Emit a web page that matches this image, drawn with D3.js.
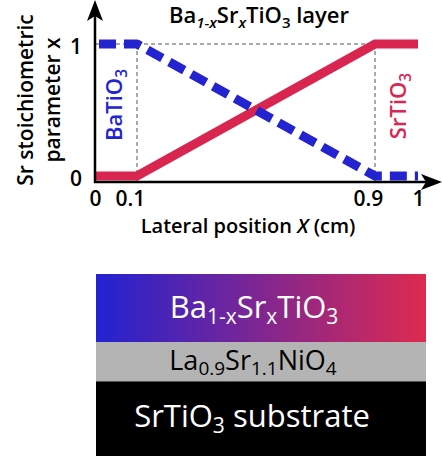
<!DOCTYPE html>
<html>
<head>
<meta charset="utf-8">
<script src="https://cdn.jsdelivr.net/npm/d3@7"></script>
<style>
  html, body { margin: 0; padding: 0; background: #fff; }
  svg { display: block; font-family: "Open Sans", sans-serif; }
</style>
</head>
<body>
<svg id="chart" width="442" height="456"></svg>
<script>
// ---- data ----
const positions = [0, 0.1, 0.9, 1];          // lateral position X (cm)
const srSeries = [0, 0, 1, 1];               // SrTiO3 fraction x (red)
const baSeries = [1, 1, 0, 0];               // BaTiO3 fraction 1-x (blue)
const xTickValues = [0, 0.1, 0.9, 1];
const xTickLabels = ["0", "0.1", "0.9", "1"];
const yTickValues = [0, 1];
const yTickLabels = ["0", "1"];

const blue = "#2323cf";
const red = "#d92650";

const svg = d3.select("#chart");

// schematic (piecewise) position scale
const x = d3.scaleLinear().domain([0, 0.1, 0.9, 1]).range([95, 137, 375, 418]);
const y = d3.scaleLinear().domain([0, 1]).range([176, 44]);
const axisY = 182;

// guides
const guides = svg.append("g").attr("stroke", "#555").attr("stroke-width", 1).attr("stroke-dasharray", "4,3");
guides.append("line").attr("x1", x(0)).attr("x2", x(0.9)).attr("y1", y(1)).attr("y2", y(1));
[0.1, 0.9].forEach(v => {
  guides.append("line").attr("x1", x(v)).attr("x2", x(v)).attr("y1", y(1)).attr("y2", axisY);
});

// series lines
const line = d3.line().x((d, i) => x(positions[i])).y(d => y(d));
svg.append("path").datum(srSeries).attr("d", line)
  .attr("fill", "none").attr("stroke", red).attr("stroke-width", 9).attr("stroke-linejoin", "miter");
svg.append("path").datum(baSeries).attr("d", line)
  .attr("fill", "none").attr("stroke", blue).attr("stroke-width", 9)
  .attr("stroke-dasharray", "17,8").attr("stroke-dashoffset", -4).attr("stroke-linejoin", "round");

// axes lines with arrows
svg.append("line").attr("x1", x(0)).attr("x2", x(0)).attr("y1", axisY + 1).attr("y2", 14)
  .attr("stroke", "#000").attr("stroke-width", 2.5);
svg.append("line").attr("x1", x(0) - 1).attr("x2", 430).attr("y1", axisY).attr("y2", axisY)
  .attr("stroke", "#000").attr("stroke-width", 2.5);
const ax0 = x(0);
svg.append("path").attr("d", `M${ax0},0 L${ax0 + 8},21 L${ax0},16 L${ax0 - 8},21 Z`).attr("fill", "#000");
svg.append("path").attr("d", `M442,${axisY} L421,${axisY - 8} L426,${axisY} L421,${axisY + 8} Z`).attr("fill", "#000");

// tick labels
const xAxis = d3.axisBottom(x).tickValues(xTickValues).tickSize(0).tickPadding(9)
  .tickFormat((d, i) => xTickLabels[i]);
const gx = svg.append("g").attr("transform", `translate(0,${axisY})`).call(xAxis);
gx.select(".domain").remove();
gx.selectAll("text").attr("font-size", 21).attr("font-weight", 600).attr("fill", "#000")
  .attr("font-family", "Open Sans")
  .attr("dx", (d) => (d > 0 && d < 1) ? -7 : 0);

const yAxis = d3.axisLeft(y).tickValues(yTickValues).tickSize(0).tickPadding(13)
  .tickFormat((d, i) => yTickLabels[i]);
const gy = svg.append("g").attr("transform", `translate(${x(0)},0)`).call(yAxis);
gy.select(".domain").remove();
gy.selectAll("text").attr("font-size", 21).attr("font-weight", 600).attr("fill", "#000")
  .attr("font-family", "Open Sans").attr("dy", "0.45em");

// title
const title = svg.append("text").attr("x", 259).attr("y", 23).attr("text-anchor", "middle")
  .attr("font-size", 22).attr("font-weight", 600);
title.append("tspan").text("Ba");
title.append("tspan").attr("font-size", 15).attr("font-style", "italic").attr("dy", 5).text("1-x");
title.append("tspan").attr("dy", -5).text("Sr");
title.append("tspan").attr("font-size", 15).attr("font-style", "italic").attr("dy", 5).text("x");
title.append("tspan").attr("dy", -5).text("TiO");
title.append("tspan").attr("font-size", 15).attr("dy", 5).text("3");
title.append("tspan").attr("dy", -5).text(" layer");

// y label
const yl = svg.append("text").attr("transform", "translate(33,100) rotate(-90)")
  .attr("text-anchor", "middle").attr("font-size", 21).attr("font-weight", 600);
yl.append("tspan").attr("x", 0).attr("y", 0).text("Sr stoichiometric");
yl.append("tspan").attr("x", 0).attr("y", 27).text("parameter x");

// x label
const xl = svg.append("text").attr("x", 248).attr("y", 233).attr("text-anchor", "middle")
  .attr("font-size", 20).attr("font-weight", 600);
xl.append("tspan").text("Lateral position ");
xl.append("tspan").attr("font-style", "italic").text("X");
xl.append("tspan").text(" (cm)");

// rotated series labels
function chem(sel, parts) {
  parts.forEach(p => {
    if (p.sub) sel.append("tspan").attr("font-size", "0.7em").attr("dy", p.dy).text(p.t);
    else sel.append("tspan").attr("dy", p.dy || 0).text(p.t);
  });
}
const baL = svg.append("text").attr("transform", "translate(122,105) rotate(-90)")
  .attr("text-anchor", "middle").attr("font-size", 22).attr("font-weight", 600).attr("fill", blue);
chem(baL, [{t: "BaTiO"}, {t: "3", sub: true, dy: 5}]);
const srL = svg.append("text").attr("transform", "translate(406,106) rotate(-90)")
  .attr("text-anchor", "middle").attr("font-size", 22).attr("font-weight", 600).attr("fill", red);
chem(srL, [{t: "SrTiO"}, {t: "3", sub: true, dy: 5}]);

// ---- layer stack diagram ----
const defs = svg.append("defs");
const grad = defs.append("linearGradient").attr("id", "bst").attr("x1", "0%").attr("x2", "100%");
grad.append("stop").attr("offset", "0%").attr("stop-color", "#2222d2");
grad.append("stop").attr("offset", "100%").attr("stop-color", "#de2a50");

const sx0 = 96, sx1 = 426;
svg.append("rect").attr("x", sx0).attr("y", 274).attr("width", sx1 - sx0).attr("height", 68).attr("fill", "url(#bst)");
svg.append("rect").attr("x", sx0).attr("y", 342).attr("width", sx1 - sx0).attr("height", 40).attr("fill", "#b4b4b4");
svg.append("line").attr("x1", sx0).attr("x2", sx1).attr("y1", 381.5).attr("y2", 381.5).attr("stroke", "#555").attr("stroke-width", 1);
svg.append("rect").attr("x", sx0).attr("y", 382).attr("width", sx1 - sx0).attr("height", 80).attr("fill", "#000");

const t1 = svg.append("text").attr("x", 254).attr("y", 318).attr("text-anchor", "middle")
  .attr("font-size", 31).attr("fill", "#fff");
t1.append("tspan").text("Ba");
t1.append("tspan").attr("font-size", 21).attr("dy", 6).text("1-x");
t1.append("tspan").attr("dy", -6).text("Sr");
t1.append("tspan").attr("font-size", 21).attr("dy", 6).text("x");
t1.append("tspan").attr("dy", -6).text("TiO");
t1.append("tspan").attr("font-size", 21).attr("dy", 6).text("3");

const t2 = svg.append("text").attr("x", 253).attr("y", 370).attr("text-anchor", "middle")
  .attr("font-size", 27).attr("fill", "#000");
t2.append("tspan").text("La");
t2.append("tspan").attr("font-size", 19).attr("dy", 5).text("0.9");
t2.append("tspan").attr("dy", -5).text("Sr");
t2.append("tspan").attr("font-size", 19).attr("dy", 5).text("1.1");
t2.append("tspan").attr("dy", -5).text("NiO");
t2.append("tspan").attr("font-size", 19).attr("dy", 5).text("4");

const t3 = svg.append("text").attr("x", 252).attr("y", 427).attr("text-anchor", "middle")
  .attr("font-size", 31).attr("fill", "#fff");
t3.append("tspan").text("SrTiO");
t3.append("tspan").attr("font-size", 21).attr("dy", 6).text("3");
t3.append("tspan").attr("dy", -6).text(" substrate");
</script>
</body>
</html>
